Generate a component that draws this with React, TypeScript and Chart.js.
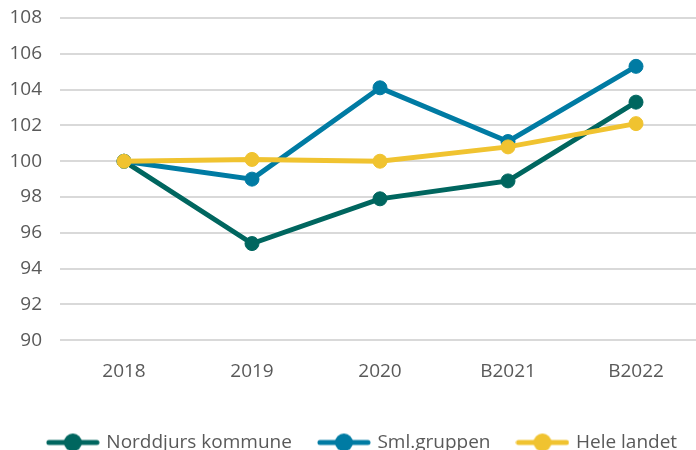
import React, { useEffect, useRef } from "react";
import { Chart, registerables } from "chart.js";

Chart.register(...registerables);

const categories = ["2018", "2019", "2020", "B2021", "B2022"];
const norddjurs = [100, 95.4, 97.9, 98.9, 103.3];
const smlGruppen = [100, 99.0, 104.1, 101.1, 105.3];
const heleLandet = [100, 100.1, 100.0, 100.8, 102.1];
const seriesNames = ["Norddjurs kommune", "Sml.gruppen", "Hele landet"];
const seriesColors = ["#00665f", "#007ba3", "#f0c330"];

const FONT = "'Open Sans', sans-serif";
const TEXT = "#595959";

function makeMarker(color: string) {
  const c = document.createElement("canvas");
  c.width = 54;
  c.height = 20;
  const ctx = c.getContext("2d")!;
  ctx.strokeStyle = color;
  ctx.lineWidth = 5;
  ctx.lineCap = "round";
  ctx.beginPath();
  ctx.moveTo(3, 10);
  ctx.lineTo(51, 10);
  ctx.stroke();
  ctx.fillStyle = color;
  ctx.beginPath();
  ctx.arc(27, 10, 9, 0, Math.PI * 2);
  ctx.fill();
  return c;
}

export default function App() {
  const ref = useRef<HTMLCanvasElement>(null);
  useEffect(() => {
    const markers = seriesColors.map(makeMarker);
    const values = [norddjurs, smlGruppen, heleLandet];
    const orders = [2, 1, 0];
    const chart = new Chart(ref.current!, {
      type: "line",
      data: {
        labels: categories,
        datasets: values.map((d, i) => ({
          label: seriesNames[i],
          data: d,
          borderColor: seriesColors[i],
          backgroundColor: seriesColors[i],
          pointBackgroundColor: seriesColors[i],
          pointBorderColor: seriesColors[i],
          borderWidth: 5,
          pointRadius: 7,
          pointBorderWidth: 1,
          tension: 0,
          order: orders[i],
          yAxisID: "y",
        })),
      },
      options: {
        animation: false,
        responsive: false,
        devicePixelRatio: 1,
        layout: { padding: { top: 18, left: 0, right: 0, bottom: 0 } },
        plugins: {
          tooltip: { enabled: false },
          legend: {
            position: "bottom",
            labels: {
              usePointStyle: true,
              pointStyleWidth: 48,
              boxHeight: 18,
              padding: 28,
              color: TEXT,
              font: { family: FONT, size: 19 },
              sort: (a: any, b: any) => a.datasetIndex - b.datasetIndex,
              generateLabels: (chart: any) => {
                const items = Chart.defaults.plugins.legend.labels.generateLabels(chart);
                items.forEach((it: any) => {
                  it.pointStyle = markers[it.datasetIndex];
                  it.fontColor = TEXT;
                });
                return items;
              },
            },
          },
        },
        scales: {
          x: {
            offset: true,
            grid: { display: false, drawTicks: false },
            border: { display: false },
            ticks: { color: TEXT, font: { family: FONT, size: 19 }, padding: 20 },
            afterFit: (s: any) => {
              s.height = 64.75;
            },
          },
          y: {
            min: 90,
            max: 108,
            ticks: { stepSize: 2, color: TEXT, font: { family: FONT, size: 19 }, padding: 18 },
            grid: { color: "#d9d9d9", lineWidth: 2, drawTicks: false },
            border: { display: false },
            afterFit: (s: any) => {
              s.width = 60;
              s.paddingTop = 0;
              s.paddingBottom = 0;
            },
          },
          y2: {
            position: "right",
            display: true,
            ticks: { display: false },
            grid: { display: false, drawTicks: false },
            border: { display: false },
            afterFit: (s: any) => {
              s.width = 26;
              s.paddingTop = 0;
              s.paddingBottom = 0;
            },
          },
        },
      },
    } as any);
    return () => chart.destroy();
  }, []);
  return (
    <div style={{ position: "fixed", left: 0, top: 0, width: 696, height: 450, overflow: "hidden" }}>
      <canvas ref={ref} width={726} height={462} style={{ display: "block", width: 726, height: 462 }} />
    </div>
  );
}
